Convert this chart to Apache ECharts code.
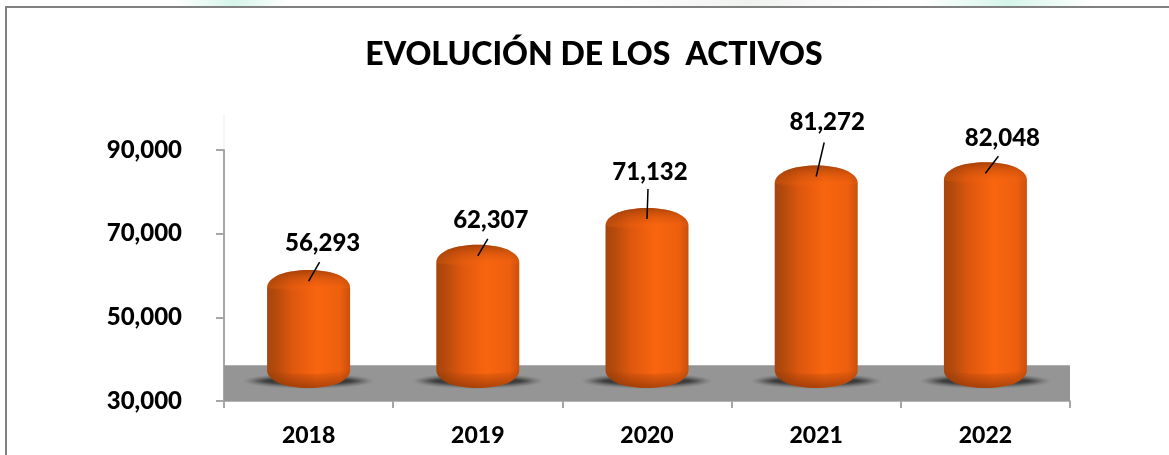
<!DOCTYPE html>
<html>
<head>
<meta charset="utf-8">
<title>Evolución de los activos</title>
<style>
  html, body { margin: 0; padding: 0; background: #fff; }
  #chart { width: 1169px; height: 455px; }
</style>
</head>
<body>
<div id="chart"></div>
<script src="https://cdn.jsdelivr.net/npm/echarts@6/dist/echarts.min.js"></script>
<script>
// data
const years = ["2018", "2019", "2020", "2021", "2022"];
const activos = [56293, 62307, 71132, 81272, 82048];
const yTicks = [30000, 50000, 70000, 90000];
const titleText = "EVOLUCIÓN DE LOS  ACTIVOS";

// the floor of the 3D plot, in axis units
const floorValue = 38570;

// label placement, relative to the top centre of each cylinder
const labelDx = [14, 13, 3, 11, 17];
const labelDy = [-27, -25, -36, -43, -24];
const leaderDx = [11, 10, 1, 8, 13];
const leaderDy = [-8, -6, -19, -23, -6];

const FONT = "Lato, Carlito, sans-serif";
const BAR_W = 83;
const SHOULDER = 18;
const DEPTH_TOP = 21; // excel pushes the 3D bars back from the axis
const DEPTH_BASE = 13;
const SHADOW_STEPS = 18;

const fmt = (v) => v.toLocaleString("en-US");

const silhouette = (w, h, s) =>
  `M0 ${s} C0 ${s * 0.35} ${w * 0.24} 0 ${w / 2} 0 C${w * 0.76} 0 ${w} ${s * 0.35} ${w} ${s} ` +
  `L${w} ${h - s} C${w} ${h - s * 0.35} ${w * 0.76} ${h} ${w / 2} ${h} C${w * 0.24} ${h} 0 ${h - s * 0.35} 0 ${h - s} Z`;

// soft floor shadow, stacked see-through ellipses, faint on the outside
const floorShadow = (cx, cy) => {
  const rings = [];
  for (let k = 0; k < SHADOW_STEPS; k++) {
    const t = k / (SHADOW_STEPS - 1);
    rings.push({
      type: "ellipse",
      shape: { cx: cx, cy: cy, rx: 66 - t * 24, ry: 8 - t * 5.5 },
      style: { fill: `rgba(30,30,30,${(0.012 + 0.11 * t).toFixed(3)})` },
    });
  }
  return rings;
};

// pale remains of the slide behind the chart, above the frame
const backdropBlob = (x, width, color) => ({
  type: "rect",
  shape: { x: x, y: 0, width: width, height: 6 },
  style: {
    fill: new echarts.graphic.LinearGradient(0, 0, 1, 0, [
      { offset: 0, color: "#ffffff" },
      { offset: 0.5, color: color },
      { offset: 1, color: "#ffffff" },
    ]),
  },
});

const renderCylinder = (params, api) => {
  const i = api.value(0);
  const [cx, valueY] = api.coord([i, api.value(1)]);
  const baseY = api.coord([i, yTicks[0]])[1] - DEPTH_BASE;
  const top = valueY - DEPTH_TOP;
  const h = baseY - top;
  const x = cx - BAR_W / 2;
  const w = BAR_W;
  const s = SHOULDER;

  return {
    type: "group",
    children: [
      ...floorShadow(cx, baseY - 7),
      {
        type: "path",
        shape: { pathData: silhouette(w, h, s), x: x, y: top, width: w, height: h, layout: "cover" },
        style: {
          fill: new echarts.graphic.LinearGradient(0, 0, 1, 0, [
            { offset: 0, color: "#a8440c" },
            { offset: 0.1, color: "#b34a0c" },
            { offset: 0.3, color: "#dd570e" },
            { offset: 0.6, color: "#f9650f" },
            { offset: 0.88, color: "#ed5f0e" },
            { offset: 1, color: "#c9500c" },
          ]),
        },
      },
      // darker rounded shoulder at the top
      {
        type: "path",
        shape: {
          pathData: `M0 ${s} C0 ${s * 0.35} ${w * 0.24} 0 ${w / 2} 0 C${w * 0.76} 0 ${w} ${s * 0.35} ${w} ${s} Q${w / 2} ${s + 8} 0 ${s} Z`,
          x: x, y: top, width: w, height: s + 4, layout: "cover",
        },
        style: {
          fill: new echarts.graphic.LinearGradient(0, 0, 0, 1, [
            { offset: 0, color: "rgba(130,50,5,0.65)" },
            { offset: 0.45, color: "rgba(190,75,10,0.35)" },
            { offset: 0.8, color: "rgba(245,100,15,0.25)" },
            { offset: 1, color: "rgba(245,100,15,0)" },
          ]),
        },
      },
      // and at the bottom
      {
        type: "path",
        shape: {
          pathData: `M0 0 Q${w / 2} 8 ${w} 0 C${w} ${s * 0.65} ${w * 0.76} ${s} ${w / 2} ${s} C${w * 0.24} ${s} 0 ${s * 0.65} 0 0 Z`,
          x: x, y: baseY - s, width: w, height: s, layout: "cover",
        },
        style: {
          fill: new echarts.graphic.LinearGradient(0, 0, 0, 1, [
            { offset: 0, color: "rgba(120,45,5,0)" },
            { offset: 1, color: "rgba(120,45,5,0.6)" },
          ]),
        },
      },
      {
        type: "line",
        shape: { x1: cx + leaderDx[i], y1: top + leaderDy[i], x2: cx, y2: top + 11 },
        style: { stroke: "#000", lineWidth: 1.5 },
      },
      {
        type: "text",
        style: {
          x: cx + labelDx[i],
          y: top + labelDy[i],
          text: fmt(api.value(1)),
          font: `900 24px ${FONT}`,
          fill: "#000",
          align: "center",
          verticalAlign: "middle",
        },
      },
    ],
  };
};

const renderFloor = (params, api) => {
  const cs = params.coordSys;
  const top = api.coord([0, api.value(1)])[1];
  return {
    type: "rect",
    shape: { x: cs.x, y: top, width: cs.width, height: cs.y + cs.height - top },
    style: { fill: "#959595" },
  };
};

const chart = echarts.init(document.getElementById("chart"));

chart.setOption({
  animation: false,
  backgroundColor: "#fff",
  title: {
    text: titleText,
    left: 589,
    top: 34,
    textAlign: "center",
    textStyle: { fontFamily: FONT, fontWeight: 900, fontSize: 32, color: "#000" },
  },
  grid: { left: 224, right: 99, top: 150, bottom: 54 },
  xAxis: {
    type: "category",
    data: years,
    axisLine: { lineStyle: { color: "#b4b4b4", width: 2 } },
    axisTick: { show: true, alignWithLabel: false, length: 7, lineStyle: { color: "#a6a6a6", width: 2 } },
    axisLabel: { margin: 23, fontFamily: FONT, fontWeight: 900, fontSize: 23, color: "#000" },
  },
  yAxis: {
    type: "value",
    min: yTicks[0],
    max: yTicks[yTicks.length - 1],
    axisLine: { show: true, lineStyle: { color: "#a6a6a6", width: 2 } },
    axisTick: { show: true, length: 8, customValues: yTicks, lineStyle: { color: "#a6a6a6", width: 2 } },
    axisLabel: {
      margin: 42,
      customValues: yTicks,
      formatter: (v) => fmt(v),
      fontFamily: FONT,
      fontWeight: 900,
      fontSize: 24,
      color: "#000",
    },
    splitLine: { show: false },
  },
  graphic: [
    backdropBlob(175, 115, "#d5f5ea"),
    backdropBlob(610, 280, "#f0f2f0"),
    backdropBlob(920, 175, "#d5f5ea"),
    // chart frame, the picture is cropped on the right and bottom
    {
      type: "polyline",
      shape: { points: [[6, 455], [6, 7], [1169, 7]] },
      style: { stroke: "#808080", lineWidth: 2, fill: null },
    },
    { type: "line", shape: { x1: 224, y1: 114, x2: 224, y2: 150 }, style: { stroke: "#efefef", lineWidth: 1 } },
  ],
  series: [
    {
      type: "custom",
      z: 1,
      clip: false,
      renderItem: renderFloor,
      encode: { x: 0, y: 1 },
      data: [[0, floorValue]],
      silent: true,
    },
    {
      type: "custom",
      z: 2,
      clip: false,
      renderItem: renderCylinder,
      encode: { x: 0, y: 1 },
      data: activos.map((v, i) => [i, v]),
    },
  ],
});

window.addEventListener("resize", () => {
  chart.resize();
});
</script>
</body>
</html>
